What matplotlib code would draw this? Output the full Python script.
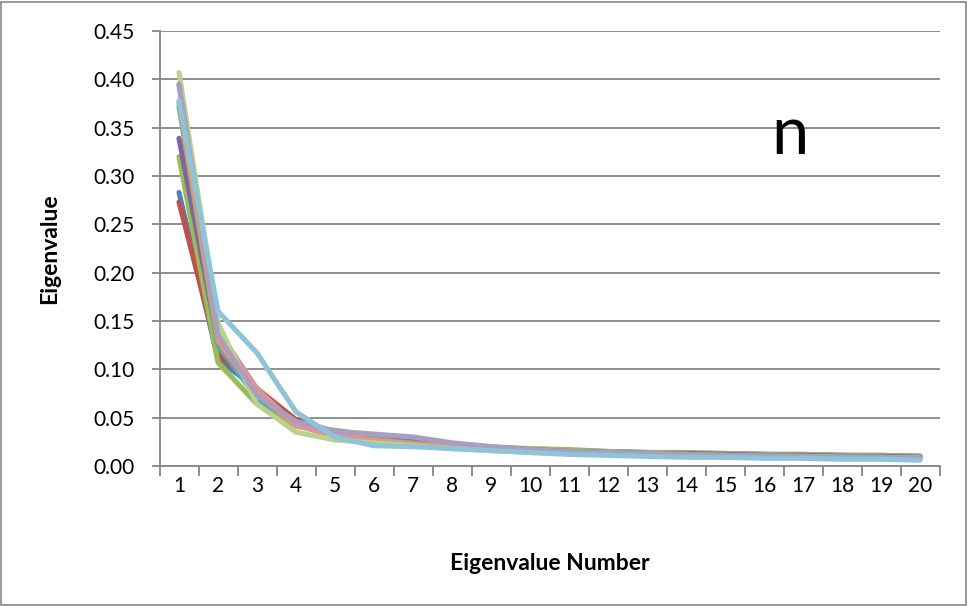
import matplotlib
matplotlib.use("Agg")
import matplotlib.pyplot as plt
from matplotlib.patches import Rectangle
from matplotlib.ticker import MultipleLocator, FixedLocator, NullFormatter

plt.rcParams['font.family'] = ['Lato', 'DejaVu Sans']

# eigenvalue number on the x axis
numbers = list(range(1, 21))

# eigenvalue spectra, one list per run
s_blue = [0.283, 0.110, 0.080, 0.045, 0.035, 0.029, 0.025, 0.022, 0.019, 0.017,
          0.016, 0.015, 0.014, 0.013, 0.013, 0.012, 0.012, 0.011, 0.011, 0.010]
s_red = [0.273, 0.116, 0.080, 0.048, 0.035, 0.029, 0.024, 0.021, 0.018, 0.017,
         0.015, 0.014, 0.013, 0.013, 0.012, 0.012, 0.011, 0.011, 0.010, 0.010]
s_green = [0.320, 0.107, 0.064, 0.041, 0.037, 0.031, 0.027, 0.023, 0.020, 0.018,
           0.017, 0.015, 0.014, 0.014, 0.013, 0.012, 0.012, 0.011, 0.011, 0.010]
s_purple = [0.339, 0.128, 0.072, 0.046, 0.035, 0.030, 0.025, 0.021, 0.019, 0.017,
            0.015, 0.014, 0.013, 0.013, 0.012, 0.011, 0.011, 0.010, 0.010, 0.009]
s_aqua = [0.372, 0.125, 0.070, 0.043, 0.033, 0.028, 0.024, 0.020, 0.018, 0.016,
          0.015, 0.014, 0.013, 0.012, 0.011, 0.011, 0.010, 0.010, 0.009, 0.009]
s_orange = [0.376, 0.130, 0.074, 0.042, 0.032, 0.027, 0.023, 0.020, 0.017, 0.016,
            0.014, 0.013, 0.012, 0.012, 0.011, 0.010, 0.010, 0.009, 0.009, 0.008]
s_pink = [0.394, 0.140, 0.080, 0.042, 0.031, 0.026, 0.022, 0.019, 0.017, 0.015,
          0.014, 0.013, 0.012, 0.011, 0.010, 0.010, 0.009, 0.009, 0.008, 0.008]
s_lgreen = [0.407, 0.148, 0.064, 0.035, 0.027, 0.024, 0.021, 0.018, 0.016, 0.014,
            0.013, 0.012, 0.011, 0.010, 0.010, 0.009, 0.009, 0.008, 0.008, 0.008]
s_lpurple = [0.395, 0.135, 0.073, 0.046, 0.036, 0.033, 0.030, 0.024, 0.020, 0.017,
             0.015, 0.014, 0.013, 0.012, 0.011, 0.010, 0.010, 0.009, 0.009, 0.008]
s_laqua = [0.378, 0.160, 0.117, 0.056, 0.030, 0.021, 0.020, 0.018, 0.016, 0.014,
           0.012, 0.011, 0.010, 0.009, 0.009, 0.008, 0.008, 0.007, 0.007, 0.006]

series = [s_blue, s_red, s_green, s_purple, s_aqua, s_orange,
          s_pink, s_lgreen, s_lpurple, s_laqua]
colors = ['#4F81BD', '#C0504D', '#9BBB59', '#8064A2', '#4BACC6', '#F79646',
          '#D99694', '#B9D28F', '#AB9DC0', '#8EC4D7']

grid_col = '#868686'

fig = plt.figure(figsize=(9.68, 6.06), dpi=100)
ax = fig.add_axes([159.5 / 968, 140 / 606, 780 / 968, 435 / 606])

for vals, c in zip(series, colors):
    ax.plot(numbers, vals, color=c, lw=3.7, solid_capstyle='round',
            solid_joinstyle='round')

ax.set_xlim(0.5, 20.5)
ax.set_ylim(0, 0.45)

ax.yaxis.set_major_locator(MultipleLocator(0.05))
ax.yaxis.set_major_formatter(plt.FuncFormatter(lambda v, p: '%.2f' % v))
ax.grid(axis='y', color=grid_col, lw=1.3)
ax.set_axisbelow(True)

# category labels centred, tick marks between categories
ax.xaxis.set_major_locator(FixedLocator(numbers))
ax.xaxis.set_minor_locator(FixedLocator([n + 0.5 for n in range(0, 21)]))
ax.xaxis.set_minor_formatter(NullFormatter())
ax.tick_params(axis='x', which='major', length=0, pad=7, labelsize=15)
ax.tick_params(axis='x', which='minor', length=7, width=1.3, color=grid_col,
               direction='out')
ax.tick_params(axis='y', length=6, width=1.3, color=grid_col, pad=12,
               labelsize=15)

for side in ['top', 'right']:
    ax.spines[side].set_visible(False)
for side in ['left', 'bottom']:
    ax.spines[side].set_color(grid_col)
    ax.spines[side].set_linewidth(1.3)

ax.set_xlabel('Eigenvalue Number', fontsize=16.5, fontweight='bold')
ax.xaxis.set_label_coords(0.5, -0.20)
ax.set_ylabel('Eigenvalue', fontsize=16.5, fontweight='bold')
ax.yaxis.set_label_coords(-0.128, 0.5)

ax.text(790 / 968, 1 - 135 / 606, 'n', transform=fig.transFigure,
        fontsize=48, ha='center', va='center')

fig.add_artist(Rectangle((1 / 968, 1 / 606), 965 / 968, 603 / 606,
                         transform=fig.transFigure, fill=False,
                         edgecolor=grid_col, lw=1.2))

fig.savefig('out.png', dpi=100)
